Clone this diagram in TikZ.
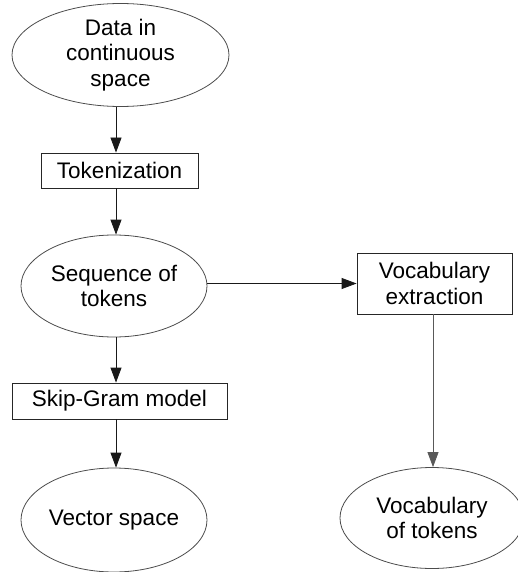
\documentclass[tikz,border=0pt]{standalone}
\usepackage{fontspec}
\setmainfont{Liberation Sans}
\usepackage{tikz}
\usetikzlibrary{shapes.geometric}
\usetikzlibrary{arrows.meta}
\tikzset{
  Oval/.style={ellipse, draw=black!70, inner sep=0pt, align=center,
    minimum width=#1, minimum height=103pt}, % for data
  Kasten/.style={rectangle, draw=black!85, inner sep=0pt, align=center,
    minimum width=#1, minimum height=35pt}, % for steps
  Pfeil/.style={draw=black!90, -{Triangle[length=15pt,width=11pt]}} % for arrows
}

\begin{document}
\begin{tikzpicture}[x=1pt, y=-1pt,
line width=0.8pt,
font=\fontsize{22.5}{25.5}\selectfont
]
\useasboundingbox (0,0) rectangle (517,572);

%Knoten
\node[Oval=217pt] (data) at (120.5,55) {Data in\\continuous\\space};
\node[Kasten=157pt] (tok) at (119.5,170.5) {Tokenization};
\node[Oval=186pt, minimum height=102pt] (seq) at (114,286) {Sequence of\\tokens};
\node[Kasten=155pt, minimum height=61pt] (vocx) at (434.5,283.5) {Vocabulary\\extraction};
\node[Kasten=215pt, minimum height=36pt] (skip) at (119.5,401) {Skip-Gram model};
\node[Oval=186pt, minimum height=104pt] (vec) at (114,520) {Vector space};
\node[Oval=184pt, minimum height=101pt] (voct) at (432,518) {Vocabulary\\of tokens};

%Achsen der Spalten
\coordinate (achse) at (116,0);
\coordinate (achseR) at (433,0);

%Pfeile
\draw[Pfeil] (data.south -| achse) -- (tok.north -| achse);
\draw[Pfeil] (tok.south -| achse) -- (seq.north -| achse);
\draw[Pfeil] (seq.south -| achse) -- (skip.north -| achse);
\draw[Pfeil] (skip.south -| achse) -- (vec.north -| achse);
\draw[Pfeil] (seq.east |- vocx) -- (vocx.west);
\draw[Pfeil, draw=black!65] (vocx.south -| achseR) -- (voct.north -| achseR);

\end{tikzpicture}
\end{document}
